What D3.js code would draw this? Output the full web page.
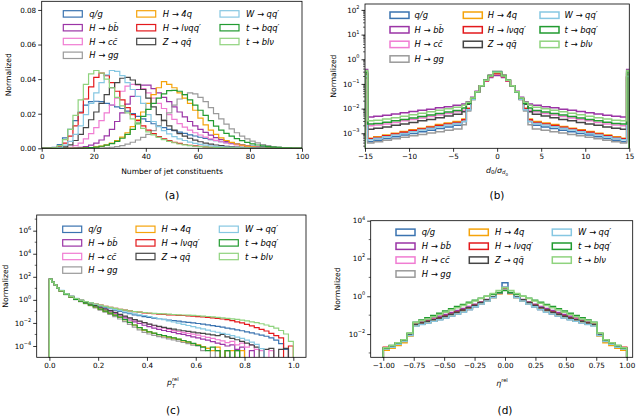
<!DOCTYPE html>
<html>
<head>
<meta charset="utf-8">
<script src="https://cdn.jsdelivr.net/npm/d3@7"></script>
<style>
  body { margin: 0; background: #fff; }
  text { font-family: "DejaVu Sans", sans-serif; fill: #000; }
</style>
</head>
<body>
<svg id="fig" width="640" height="416"></svg>
<script>
// jet classes, in legend / drawing order
const classLabels = ["q/g", "H → bb\u0304", "H → cc\u0304", "H → gg", "H → 4q",
  "H → lνqq′", "Z → qq\u0304", "W → qq′", "t → bqq′", "t → blν"];
const classColors = ["#3a73b0", "#9b34a6", "#f07cd2", "#9a9a9a", "#f5a30a",
  "#e3191c", "#454545", "#86c7e2", "#229b31", "#8fd37e"];

// (a) number of jet constituents, bins of width 2 on [0, 100]
const nconstEdges = d3.range(0, 101, 2);
const nconstVals = [
  [0,0,0.0005,0.0022,0.006,0.011,0.016,0.021,0.025,0.027, 0.0272,0.027,0.026,0.025,0.024,0.023,0.0215,0.020,0.0185,0.017,
   0.0155,0.0142,0.013,0.012,0.011,0.0102,0.0094,0.0086,0.0078,0.0071, 0.0064,0.0057,0.005,0.0044,0.0038,0.0033,0.0028,0.0024,0.002,0.0016,
   0.0013,0.001,0.0008,0.0006,0.0005,0.0004,0.0003,0.0002,0.0001,0.0001],
  [0,0,0,0,0,0,0.0002,0.0005,0.001,0.0018, 0.003,0.0048,0.0072,0.011,0.0155,0.0205,0.0255,0.030,0.034,0.0365,
   0.0365,0.0345,0.032,0.0295,0.027,0.024,0.021,0.0182,0.0155,0.013, 0.011,0.0092,0.0076,0.0062,0.005,0.004,0.0031,0.0024,0.0018,0.0014,
   0.001,0.0008,0.0006,0.0004,0.0003,0.0002,0.00015,0.0001,0.0001,0],
  [0,0,0,0,0.0002,0.0006,0.0015,0.003,0.0055,0.0085, 0.012,0.016,0.0205,0.025,0.029,0.033,0.036,0.037,0.0365,0.0345,
   0.032,0.029,0.026,0.023,0.0195,0.0167,0.0143,0.0122,0.0105,0.009, 0.0077,0.0065,0.0055,0.0046,0.0038,0.0031,0.0025,0.002,0.0016,0.0012,
   0.0009,0.0007,0.0005,0.0004,0.0003,0.0002,0.00015,0.0001,0.0001,0],
  [0,0,0,0,0,0,0,0,0,0, 0,0.0001,0.0003,0.0006,0.001,0.0016,0.0024,0.0035,0.0048,0.0063,
   0.008,0.0102,0.013,0.0165,0.0205,0.025,0.0285,0.031,0.032,0.0315, 0.0295,0.027,0.0235,0.020,0.017,0.014,0.0112,0.009,0.007,0.0055,
   0.0042,0.0031,0.0022,0.0015,0.001,0.0007,0.0004,0.0003,0.0002,0.0001],
  [0,0,0,0,0,0,0,0,0.0002,0.0004, 0.0008,0.0013,0.002,0.003,0.0045,0.0065,0.009,0.0125,0.0165,0.021,
   0.026,0.031,0.035,0.0385,0.037,0.035,0.032,0.029,0.026,0.022, 0.0175,0.0135,0.0105,0.008,0.006,0.0045,0.0034,0.0025,0.0018,0.0013,
   0.0009,0.0006,0.0004,0.0003,0.0002,0.0001,0.0001,0,0,0],
  [0,0,0.0002,0.001,0.003,0.007,0.013,0.0205,0.0285,0.0355, 0.041,0.0435,0.042,0.038,0.033,0.028,0.0235,0.0195,0.016,0.013,
   0.0105,0.0085,0.0068,0.0055,0.0044,0.0035,0.0028,0.0022,0.0017,0.0014, 0.0011,0.0008,0.0006,0.0005,0.0004,0.0003,0.0002,0.00015,0.0001,0.0001,
   0,0,0,0,0,0,0,0,0,0],
  [0,0,0,0.0002,0.0008,0.002,0.0045,0.008,0.012,0.0165, 0.021,0.026,0.031,0.035,0.038,0.0405,0.041,0.0395,0.037,0.034,
   0.029,0.024,0.0195,0.016,0.013,0.0105,0.0085,0.007,0.0058,0.0047, 0.0038,0.003,0.0024,0.0019,0.0015,0.0012,0.0009,0.0007,0.0005,0.0004,
   0.0003,0.0002,0.00015,0.0001,0.0001,0,0,0,0,0],
  [0,0,0,0.0005,0.0018,0.004,0.008,0.013,0.0195,0.026, 0.032,0.038,0.0425,0.045,0.0445,0.042,0.038,0.034,0.030,0.026,
   0.0195,0.0155,0.0125,0.0102,0.0083,0.0068,0.0055,0.0045,0.0036,0.0029, 0.0023,0.0018,0.0014,0.0011,0.0009,0.0007,0.0005,0.0004,0.0003,0.0002,
   0.00015,0.0001,0.0001,0,0,0,0,0,0,0],
  [0,0,0,0,0,0,0,0,0.0002,0.0004, 0.0007,0.0012,0.0018,0.0027,0.004,0.0058,0.008,0.011,0.0145,0.0185,
   0.0225,0.026,0.029,0.0315,0.0333,0.0335,0.033,0.031,0.028,0.025, 0.022,0.019,0.016,0.0128,0.0105,0.0086,0.007,0.0056,0.0044,0.0034,
   0.0026,0.0019,0.0014,0.001,0.0007,0.0005,0.0003,0.0002,0.0001,0.0001],
  [0,0,0.0003,0.0015,0.005,0.011,0.019,0.028,0.037,0.043, 0.045,0.0435,0.04,0.035,0.0295,0.0245,0.0205,0.017,0.014,0.0115,
   0.0095,0.0078,0.0063,0.005,0.004,0.0032,0.0025,0.002,0.0016,0.0012, 0.001,0.0008,0.0006,0.0005,0.0004,0.0003,0.0002,0.00015,0.0001,0.0001,
   0,0,0,0,0,0,0,0,0,0]
];

// (b) d0 / sigma(d0): outer bins hold the overflow
const d0Edges = [-15,-14.7,-14,-13,-12,-11,-10,-9,-8,-7,-6,-5,-4,-3.5,-3,-2.5,-2,-1.5,-1,-0.5,0,
  0.5,1,1.5,2,2.5,3,3.5,4,5,6,7,8,9,10,11,12,13,14,14.7,15];
const d0Vals = [
  [0.18,4.5e-4,5.2e-4,6.1e-4,7.2e-4,8.4e-4,9.8e-4,1.14e-3,1.33e-3,1.55e-3,1.8e-3,2.1e-3,0.003,0.009,0.024,0.047,0.085,0.14,0.22,0.31,
   0.31,0.22,0.14,0.085,0.047,0.024,0.009,0.003,2.1e-3,1.8e-3,1.55e-3,1.33e-3,1.14e-3,9.8e-4,8.4e-4,7.2e-4,6.1e-4,5.2e-4,4.5e-4,0.18],
  [0.38,4.6e-3,4.9e-3,5.4e-3,6.0e-3,6.8e-3,7.6e-3,8.5e-3,9.5e-3,1.07e-2,1.2e-2,1.35e-2,0.0155,0.019,0.029,0.05,0.085,0.13,0.18,0.22,
   0.22,0.18,0.13,0.085,0.05,0.029,0.019,0.0155,1.35e-2,1.2e-2,1.07e-2,9.5e-3,8.5e-3,7.6e-3,6.8e-3,6.0e-3,5.4e-3,4.9e-3,4.6e-3,0.38],
  [0.3,2.0e-3,2.15e-3,2.4e-3,2.75e-3,3.2e-3,3.6e-3,4.2e-3,4.8e-3,5.5e-3,6.3e-3,7.4e-3,0.0085,0.016,0.026,0.048,0.085,0.135,0.2,0.27,
   0.27,0.2,0.135,0.085,0.048,0.026,0.016,0.0085,7.4e-3,6.3e-3,5.5e-3,4.8e-3,4.2e-3,3.6e-3,3.2e-3,2.75e-3,2.4e-3,2.15e-3,2.0e-3,0.3],
  [0.17,4.0e-4,4.5e-4,5.2e-4,6.0e-4,6.9e-4,7.9e-4,9.0e-4,1.02e-3,1.16e-3,1.32e-3,1.5e-3,0.0022,0.008,0.023,0.046,0.085,0.145,0.23,0.33,
   0.33,0.23,0.145,0.085,0.046,0.023,0.008,0.0022,1.5e-3,1.32e-3,1.16e-3,1.02e-3,9.0e-4,7.9e-4,6.9e-4,6.0e-4,5.2e-4,4.5e-4,4.0e-4,0.17],
  [0.2,6.3e-4,7.2e-4,8.5e-4,1.0e-3,1.17e-3,1.4e-3,1.6e-3,1.9e-3,2.25e-3,2.6e-3,3.0e-3,0.0038,0.01,0.025,0.047,0.085,0.14,0.22,0.3,
   0.3,0.22,0.14,0.085,0.047,0.025,0.01,0.0038,3.0e-3,2.6e-3,2.25e-3,1.9e-3,1.6e-3,1.4e-3,1.17e-3,1.0e-3,8.5e-4,7.2e-4,6.3e-4,0.2],
  [0.2,6.0e-4,6.8e-4,8.0e-4,9.3e-4,1.1e-3,1.28e-3,1.5e-3,1.75e-3,2.05e-3,2.4e-3,2.75e-3,0.0035,0.01,0.025,0.048,0.085,0.135,0.2,0.26,
   0.26,0.2,0.135,0.085,0.048,0.025,0.01,0.0035,2.75e-3,2.4e-3,2.05e-3,1.75e-3,1.5e-3,1.28e-3,1.1e-3,9.3e-4,8.0e-4,6.8e-4,6.0e-4,0.2],
  [0.25,1.45e-3,1.6e-3,1.8e-3,2.1e-3,2.4e-3,2.75e-3,3.2e-3,3.6e-3,4.3e-3,5.0e-3,5.9e-3,0.0075,0.015,0.025,0.047,0.085,0.14,0.22,0.3,
   0.3,0.22,0.14,0.085,0.047,0.025,0.015,0.0075,5.9e-3,5.0e-3,4.3e-3,3.6e-3,3.2e-3,2.75e-3,2.4e-3,2.1e-3,1.8e-3,1.6e-3,1.45e-3,0.25],
  [0.2,5.4e-4,6.2e-4,7.2e-4,8.4e-4,9.8e-4,1.15e-3,1.35e-3,1.58e-3,1.85e-3,2.15e-3,2.5e-3,0.003,0.009,0.024,0.047,0.085,0.14,0.22,0.31,
   0.31,0.22,0.14,0.085,0.047,0.024,0.009,0.003,2.5e-3,2.15e-3,1.85e-3,1.58e-3,1.35e-3,1.15e-3,9.8e-4,8.4e-4,7.2e-4,6.2e-4,5.4e-4,0.2],
  [0.3,2.35e-3,2.5e-3,2.8e-3,3.2e-3,3.6e-3,4.2e-3,4.8e-3,5.5e-3,6.3e-3,7.2e-3,8.3e-3,0.0105,0.016,0.026,0.048,0.085,0.14,0.215,0.3,
   0.3,0.215,0.14,0.085,0.048,0.026,0.016,0.0105,8.3e-3,7.2e-3,6.3e-3,5.5e-3,4.8e-3,4.2e-3,3.6e-3,3.2e-3,2.8e-3,2.5e-3,2.35e-3,0.3],
  [0.35,3.2e-3,3.4e-3,3.8e-3,4.3e-3,4.9e-3,5.6e-3,6.5e-3,7.4e-3,8.5e-3,9.8e-3,1.12e-2,0.0135,0.018,0.027,0.048,0.085,0.14,0.21,0.29,
   0.29,0.21,0.14,0.085,0.048,0.027,0.018,0.0135,1.12e-2,9.8e-3,8.5e-3,7.4e-3,6.5e-3,5.6e-3,4.9e-3,4.3e-3,3.8e-3,3.4e-3,3.2e-3,0.35]
];

// (c) pT rel: four fine bins near zero, then bins of 0.02
const ptEdges = [0, 0.01, 0.02, 0.03, 0.04].concat(d3.range(1, 49).map(i => 0.04 + i * 0.02));
const ptVals = [
  [63,35,20,11, 6.3,3.3,2.0,1.32,0.93,0.69,0.51,0.39,0.295,0.224,0.17,0.129,0.1,0.079,0.063,0.051,0.043,0.035,0.03,0.026,
   0.023,0.02,0.0178,0.0158,0.0141,0.0126,0.0112,0.01,0.0089,0.0078,0.0068,0.0059,0.005,0.0043,0.0036,0.003,0.0025,0.0021,
   0.0017,0.0014,0.0011,0.00089,0.0007,0.0005,0.00032,0.00016,0.00005,0],
  [63,35,20,11, 6.3,3.2,1.86,1.17,0.79,0.56,0.4,0.28,0.2,0.138,0.093,0.063,0.042,0.0275,0.018,0.0126,0.0089,0.0063,0.0048,0.0036,
   0.0028,0.0022,0.0018,0.0015,0.0012,0.001,0.0008,0.00063,0.0005,0.0004,0.00032,0.00024,0.00018,0.00014,0.0001,0.000126,0.00005,0.00008,
   0,0.00004,0,0,0,0,0,0,0,0],
  [63,35,20,11, 6.3,3.2,1.86,1.2,0.83,0.6,0.44,0.316,0.23,0.158,0.11,0.076,0.052,0.036,0.025,0.0178,0.0132,0.01,0.0076,0.0058,
   0.0045,0.0035,0.00275,0.0022,0.0018,0.0015,0.00126,0.00105,0.00087,0.0007,0.00056,0.00045,0.00035,0.00028,0.0002,0.00025,0.000126,0.00018,
   0.00008,0.000126,0.00005,0.00004,0,0.00004,0,0,0,0],
  [63,35,20,11, 5.9,2.9,1.7,1.05,0.7,0.47,0.31,0.2,0.13,0.085,0.055,0.035,0.022,0.013,0.0075,0.0043,0.0025,0.0015,0.0011,0.00085,
   0.00066,0.00052,0.00042,0.00034,0.00027,0.00021,0.00016,0.00012,0.0001,0.00004,0.000063,0,0.00004,0,0.00004,0,0.00004,0,
   0,0,0,0,0,0,0,0,0,0],
  [63,35,20,11, 6.0,3.0,1.78,1.12,0.76,0.52,0.355,0.24,0.158,0.107,0.072,0.048,0.0316,0.019,0.0112,0.0066,0.004,0.0024,0.00166,0.00126,
   0.00095,0.00076,0.0006,0.00048,0.00038,0.00028,0.00022,0.000158,0.000126,0.00009,0.000063,0.00004,0.00008,0,0.00004,0.00004,0,0.00004,
   0,0,0,0,0,0,0,0,0,0],
  [63,35,20,11, 6.3,3.3,2.0,1.32,0.95,0.72,0.56,0.44,0.35,0.275,0.224,0.182,0.151,0.129,0.11,0.095,0.085,0.076,0.069,0.063,
   0.059,0.055,0.051,0.049,0.046,0.044,0.041,0.038,0.035,0.033,0.03,0.0275,0.025,0.022,0.019,0.0158,0.0126,0.01,
   0.0076,0.0056,0.004,0.0028,0.002,0.00126,0.0008,0.0005,0,0.0001],
  [63,35,20,11, 6.3,3.2,1.9,1.23,0.85,0.62,0.45,0.32,0.234,0.166,0.117,0.081,0.056,0.039,0.027,0.019,0.0141,0.0105,0.0079,0.0063,
   0.005,0.0041,0.0034,0.0029,0.00245,0.0021,0.00186,0.00162,0.0014,0.00123,0.00107,0.00093,0.00079,0.001,0.00063,0.00045,0.00035,0.00025,
   0.00018,0.000126,0.00008,0,0.00005,0.000063,0,0.00005,0.000063,0],
  [63,35,20,11, 6.6,3.5,2.1,1.35,0.95,0.71,0.54,0.41,0.316,0.245,0.19,0.148,0.115,0.091,0.074,0.062,0.051,0.044,0.036,0.0295,
   0.024,0.019,0.015,0.012,0.0095,0.0076,0.006,0.0047,0.0037,0.003,0.0024,0.0019,0.00155,0.00126,0.001,0.0008,0.0006,0.00045,
   0.00032,0.00022,0.00014,0.00006,0,0,0,0,0,0],
  [63,35,20,11, 6.0,3.0,1.78,1.12,0.76,0.52,0.355,0.24,0.158,0.107,0.072,0.048,0.0316,0.019,0.0112,0.0066,0.004,0.0025,0.0017,0.0013,
   0.00098,0.00078,0.00062,0.0005,0.0004,0.0003,0.00023,0.00017,0.000112,0.00008,0.00004,0.00008,0.00004,0,0.00004,0,0.00004,0,
   0,0,0,0,0,0,0,0,0,0],
  [63,35,20,11, 6.3,3.3,2.0,1.32,0.95,0.72,0.56,0.44,0.35,0.275,0.224,0.182,0.151,0.129,0.11,0.097,0.088,0.08,0.073,0.068,
   0.064,0.06,0.057,0.054,0.051,0.049,0.047,0.045,0.042,0.039,0.036,0.033,0.03,0.0275,0.025,0.0224,0.02,0.0174,
   0.015,0.0126,0.0105,0.0085,0.0066,0.005,0.0035,0.0022,0.0011,0.00025]
];

// (d) eta rel: 41 equal bins on [-1, 1]
const etaEdges = d3.range(42).map(i => -1 + i * 2 / 41);
const etaVals = [
  [1.66e-3,2.1e-3,3e-3,4.2e-3,8.9e-3,2.8e-2,3.3e-2,4e-2,4.8e-2,5.9e-2,7.2e-2,9.1e-2,0.117,0.15,0.2,0.275,0.39,0.56,0.87,1.5,5.2,
   1.5,0.87,0.56,0.39,0.275,0.2,0.15,0.117,9.1e-2,7.2e-2,5.9e-2,4.8e-2,4e-2,3.3e-2,2.8e-2,8.9e-3,4.2e-3,3e-3,2.1e-3,1.66e-3],
  [1.9e-3,2.3e-3,3.3e-3,4.7e-3,1.05e-2,3.6e-2,4.5e-2,5.6e-2,7e-2,8.8e-2,0.11,0.138,0.175,0.225,0.29,0.38,0.5,0.68,0.95,1.4,2.5,
   1.4,0.95,0.68,0.5,0.38,0.29,0.225,0.175,0.138,0.11,8.8e-2,7e-2,5.6e-2,4.5e-2,3.6e-2,1.05e-2,4.7e-3,3.3e-3,2.3e-3,1.9e-3],
  [1.9e-3,2.2e-3,3.2e-3,4.6e-3,1.02e-2,3.4e-2,4.1e-2,5e-2,6.1e-2,7.5e-2,9.3e-2,0.117,0.15,0.195,0.255,0.345,0.47,0.66,0.95,1.5,2.9,
   1.5,0.95,0.66,0.47,0.345,0.255,0.195,0.15,0.117,9.3e-2,7.5e-2,6.1e-2,5e-2,4.1e-2,3.4e-2,1.02e-2,4.6e-3,3.2e-3,2.2e-3,1.9e-3],
  [1.6e-3,2e-3,2.8e-3,4e-3,8.5e-3,2.8e-2,3.3e-2,4e-2,4.8e-2,5.9e-2,7.3e-2,9.1e-2,0.117,0.15,0.2,0.275,0.39,0.56,0.87,1.5,3.0,
   1.5,0.87,0.56,0.39,0.275,0.2,0.15,0.117,9.1e-2,7.3e-2,5.9e-2,4.8e-2,4e-2,3.3e-2,2.8e-2,8.5e-3,4e-3,2.8e-3,2e-3,1.6e-3],
  [1.4e-3,1.8e-3,2.5e-3,3.5e-3,7.9e-3,2.8e-2,3.4e-2,4.2e-2,5.1e-2,6.3e-2,7.9e-2,0.1,0.129,0.166,0.22,0.295,0.41,0.575,0.85,1.38,2.8,
   1.38,0.85,0.575,0.41,0.295,0.22,0.166,0.129,0.1,7.9e-2,6.3e-2,5.1e-2,4.2e-2,3.4e-2,2.8e-2,7.9e-3,3.5e-3,2.5e-3,1.8e-3,1.4e-3],
  [2e-3,2.2e-3,3.2e-3,4.5e-3,1e-2,3.3e-2,4e-2,4.8e-2,5.9e-2,7.2e-2,8.9e-2,0.112,0.145,0.19,0.25,0.34,0.47,0.66,0.95,1.5,2.8,
   1.5,0.95,0.66,0.47,0.34,0.25,0.19,0.145,0.112,8.9e-2,7.2e-2,5.9e-2,4.8e-2,4e-2,3.3e-2,1e-2,4.5e-3,3.2e-3,2.2e-3,2e-3],
  [1.8e-3,2.2e-3,3.1e-3,4.5e-3,9.8e-3,3.2e-2,3.9e-2,4.7e-2,5.8e-2,7.1e-2,8.8e-2,0.111,0.144,0.188,0.25,0.34,0.47,0.66,0.95,1.5,2.9,
   1.5,0.95,0.66,0.47,0.34,0.25,0.188,0.144,0.111,8.8e-2,7.1e-2,5.8e-2,4.7e-2,3.9e-2,3.2e-2,9.8e-3,4.5e-3,3.1e-3,2.2e-3,1.8e-3],
  [1.6e-3,2e-3,2.9e-3,4e-3,8.5e-3,2.7e-2,3.2e-2,3.9e-2,4.7e-2,5.7e-2,7e-2,8.9e-2,0.115,0.148,0.2,0.275,0.39,0.56,0.87,1.55,3.0,
   1.55,0.87,0.56,0.39,0.275,0.2,0.148,0.115,8.9e-2,7e-2,5.7e-2,4.7e-2,3.9e-2,3.2e-2,2.7e-2,8.5e-3,4e-3,2.9e-3,2e-3,1.6e-3],
  [1.8e-3,2.5e-3,3.5e-3,5e-3,1.1e-2,4.2e-2,5.5e-2,7.2e-2,9.5e-2,0.126,0.166,0.22,0.29,0.37,0.48,0.62,0.79,1.0,1.26,1.58,2.0,
   1.58,1.26,1.0,0.79,0.62,0.48,0.37,0.29,0.22,0.166,0.126,9.5e-2,7.2e-2,5.5e-2,4.2e-2,1.1e-2,5e-3,3.5e-3,2.5e-3,1.8e-3],
  [1.9e-3,2.5e-3,3.5e-3,5e-3,1.1e-2,4e-2,5e-2,6.3e-2,8.3e-2,0.107,0.141,0.186,0.245,0.32,0.43,0.56,0.76,1.0,1.41,2.0,2.8,
   2.0,1.41,1.0,0.76,0.56,0.43,0.32,0.245,0.186,0.141,0.107,8.3e-2,6.3e-2,5e-2,4e-2,1.1e-2,5e-3,3.5e-3,2.5e-3,1.9e-3]
];

// tick values
const nconstTicks = [0, 20, 40, 60, 80, 100];
const nconstYTicks = [0, 0.02, 0.04, 0.06, 0.08];
const d0Ticks = [-15, -10, -5, 0, 5, 10, 15];
const d0YExps = [-3, -2, -1, 0, 1, 2];
const ptTicks = [0, 0.2, 0.4, 0.6, 0.8, 1.0];
const ptYExps = [-4, -2, 0, 2, 4, 6];
const etaTicks = [-1, -0.75, -0.5, -0.25, 0, 0.25, 0.5, 0.75, 1];
const etaYExps = [-2, 0, 2, 4];

const svg = d3.select("#fig");
const minus = s => String(s).replace("-", "\u2212");

function drawPanel(p) {
  const g = svg.append("g");
  const x = d3.scaleLinear().domain(p.xDomain).range([p.left, p.right]);
  const y = (p.log ? d3.scaleLog() : d3.scaleLinear()).domain(p.yDomain).range([p.bottom, p.top]);
  const floor = p.log ? p.yDomain[0] / 5 : 0;

  svg.append("clipPath").attr("id", "clip-" + p.id)
    .append("rect").attr("x", p.left).attr("y", p.top)
    .attr("width", p.right - p.left).attr("height", p.bottom - p.top);

  const line = d3.line().x(d => x(d[0])).y(d => y(d[1])).curve(d3.curveStepAfter);
  p.values.forEach((vals, i) => {
    const n = vals.length;
    const pts = [[p.edges[0], floor]];
    vals.forEach((v, j) => pts.push([p.edges[j], Math.max(v, floor)]));
    pts.push([p.edges[n], Math.max(vals[n - 1], floor)]);
    pts.push([p.edges[n], floor]);
    g.append("path").attr("d", line(pts))
      .attr("clip-path", `url(#clip-${p.id})`)
      .attr("fill", "none")
      .attr("stroke", classColors[i])
      .attr("stroke-width", p.lw)
      .attr("stroke-linejoin", "miter");
  });

  // x axis
  const xAxis = g.append("g").attr("transform", `translate(0,${p.bottom})`)
    .call(d3.axisBottom(x).tickValues(p.xTicks).tickFormat(p.xFormat).tickSize(3.5).tickSizeOuter(0));
  // y axis
  const yAxis = g.append("g").attr("transform", `translate(${p.left},0)`)
    .call(d3.axisLeft(y).tickValues(p.yTicks).tickFormat(p.log ? () => "" : p.yFormat).tickSize(3.5).tickSizeOuter(0));
  [xAxis, yAxis].forEach(a => {
    a.select(".domain").remove();
    a.selectAll(".tick line").attr("stroke", "#000").attr("stroke-width", 0.8);
    a.selectAll(".tick text").attr("font-size", 7.2).attr("font-family", "DejaVu Sans").attr("fill", "#000");
  });
  xAxis.selectAll(".tick text").attr("dy", "0.71em").attr("y", 5.5);
  yAxis.selectAll(".tick text").attr("x", -5.5);

  if (p.log) {
    // minor ticks
    g.append("g").selectAll("line").data(p.minor.filter(v => v > p.yDomain[0] && v < p.yDomain[1]))
      .join("line")
      .attr("x1", p.left - 2).attr("x2", p.left)
      .attr("y1", d => y(d)).attr("y2", d => y(d))
      .attr("stroke", "#000").attr("stroke-width", 0.6);
    // 10^n labels
    p.yTicks.forEach(v => {
      const e = Math.round(Math.log10(v));
      const t = g.append("text").attr("x", p.left - 5.5).attr("y", y(v) + 2.6)
        .attr("text-anchor", "end").attr("font-size", 7.2);
      t.append("tspan").text("10");
      t.append("tspan").attr("dy", -3.6).attr("font-size", 5).text(minus(e));
    });
  }

  // frame
  g.append("rect").attr("x", p.left).attr("y", p.top)
    .attr("width", p.right - p.left).attr("height", p.bottom - p.top)
    .attr("fill", "none").attr("stroke", "#000").attr("stroke-width", 0.8);

  // y label
  g.append("text").attr("transform", `translate(${p.ylabelX},${(p.top + p.bottom) / 2}) rotate(-90)`)
    .attr("text-anchor", "middle").attr("font-size", 7.6).text("Normalized");

  // legend
  const lg = p.legend;
  classLabels.forEach((lab, i) => {
    const col = i < 4 ? 0 : (i < 7 ? 1 : 2);
    const row = i < 4 ? i : (i < 7 ? i - 4 : i - 7);
    const cx = lg.cols[col], cy = lg.y0 + row * lg.dy;
    g.append("rect").attr("x", cx).attr("y", cy - 3.2).attr("width", 19).attr("height", 6.4)
      .attr("fill", "none").attr("stroke", classColors[i]).attr("stroke-width", p.lw);
    g.append("text").attr("x", cx + lg.tx).attr("y", cy + 3)
      .attr("font-size", 8.4).attr("font-style", "italic").text(lab);
  });

  // caption
  g.append("text").attr("x", p.capX).attr("y", p.capY).attr("text-anchor", "middle")
    .attr("font-family", "DejaVu Serif").attr("font-size", 10.5).text(p.caption);
  return g;
}

// (a)
const ga = drawPanel({
  id: "a", left: 41.7, right: 302, top: 1.3, bottom: 148.3,
  xDomain: [0, 100], yDomain: [0, 0.085], log: false,
  edges: nconstEdges, values: nconstVals, lw: 1.2,
  xTicks: nconstTicks, xFormat: d => d, yTicks: nconstYTicks, yFormat: d3.format(".2f"),
  ylabelX: 11, legend: { cols: [63.3, 136.7, 220], tx: 26, y0: 13.9, dy: 13.8 },
  caption: "(a)", capX: 172, capY: 199
});
ga.append("text").attr("x", 172).attr("y", 173.5).attr("text-anchor", "middle")
  .attr("font-size", 7.6).text("Number of jet constituents");

// (b)
const gb = drawPanel({
  id: "b", left: 365, right: 629.3, top: 4, bottom: 148.3,
  xDomain: [-15, 15], yDomain: [Math.pow(10, -3.61), Math.pow(10, 2.24)], log: true,
  edges: d0Edges, values: d0Vals, lw: 1.5,
  xTicks: d0Ticks, xFormat: d => minus(d), yTicks: d0YExps.map(e => Math.pow(10, e)),
  minor: d3.range(-4, 3).flatMap(e => d3.range(2, 10).map(k => k * Math.pow(10, e))),
  ylabelX: 335.5, legend: { cols: [390, 463.3, 540], tx: 24.5, y0: 15.2, dy: 14.6 },
  caption: "(b)", capX: 497, capY: 199
});
{
  const t = gb.append("text").attr("x", 497).attr("y", 172.5).attr("text-anchor", "middle").attr("font-size", 7.8);
  t.append("tspan").attr("font-style", "italic").text("d");
  t.append("tspan").attr("dy", 1.8).attr("font-size", 5.4).text("0");
  t.append("tspan").attr("dy", -1.8).text("/");
  t.append("tspan").attr("font-style", "italic").text("σ");
  t.append("tspan").attr("dy", 1.8).attr("font-size", 5.4).attr("font-style", "italic").text("d");
  t.append("tspan").attr("dy", 1.2).attr("font-size", 4).text("0");
}

// (c)
const gc = drawPanel({
  id: "c", left: 36.7, right: 306, top: 215, bottom: 357.3,
  xDomain: [-0.052, 1.052], yDomain: [Math.pow(10, -4.98), Math.pow(10, 7.36)], log: true,
  edges: ptEdges, values: ptVals, lw: 1.2,
  xTicks: ptTicks, xFormat: d3.format(".1f"), yTicks: ptYExps.map(e => Math.pow(10, e)),
  minor: [-5, -3, -1, 1, 3, 5, 7].map(e => Math.pow(10, e)),
  ylabelX: 8, legend: { cols: [62.7, 136, 219.3], tx: 25.6, y0: 229.3, dy: 13.6 },
  caption: "(c)", capX: 173, capY: 414
});
gc.append("text").attr("x", 167).attr("y", 385).attr("font-size", 7.8).attr("font-style", "italic").text("p");
gc.append("text").attr("x", 172).attr("y", 381).attr("font-size", 5.2).text("rel");
gc.append("text").attr("x", 172).attr("y", 387.5).attr("font-size", 5.2).attr("font-style", "italic").text("T");

// (d)
const gd = drawPanel({
  id: "d", left: 370.7, right: 632.7, top: 220.7, bottom: 357.3,
  xDomain: [-1.1035, 1.0493], yDomain: [Math.pow(10, -3.23), Math.pow(10, 4.0)], log: true,
  edges: etaEdges, values: etaVals, lw: 1.5,
  xTicks: etaTicks, xFormat: d => minus(d3.format(".2f")(d)), yTicks: etaYExps.map(e => Math.pow(10, e)),
  minor: [-3, -1, 1, 3].map(e => Math.pow(10, e)),
  ylabelX: 339.5, legend: { cols: [396, 469.3, 552.3], tx: 25.7, y0: 232.3, dy: 13.9 },
  caption: "(d)", capX: 505, capY: 414
});
{
  const t = gd.append("text").attr("x", 502).attr("y", 385.5).attr("text-anchor", "middle").attr("font-size", 7.8);
  t.append("tspan").attr("font-style", "italic").text("η");
  t.append("tspan").attr("dy", -3.5).attr("font-size", 5.2).text("rel");
}
</script>
</body>
</html>
